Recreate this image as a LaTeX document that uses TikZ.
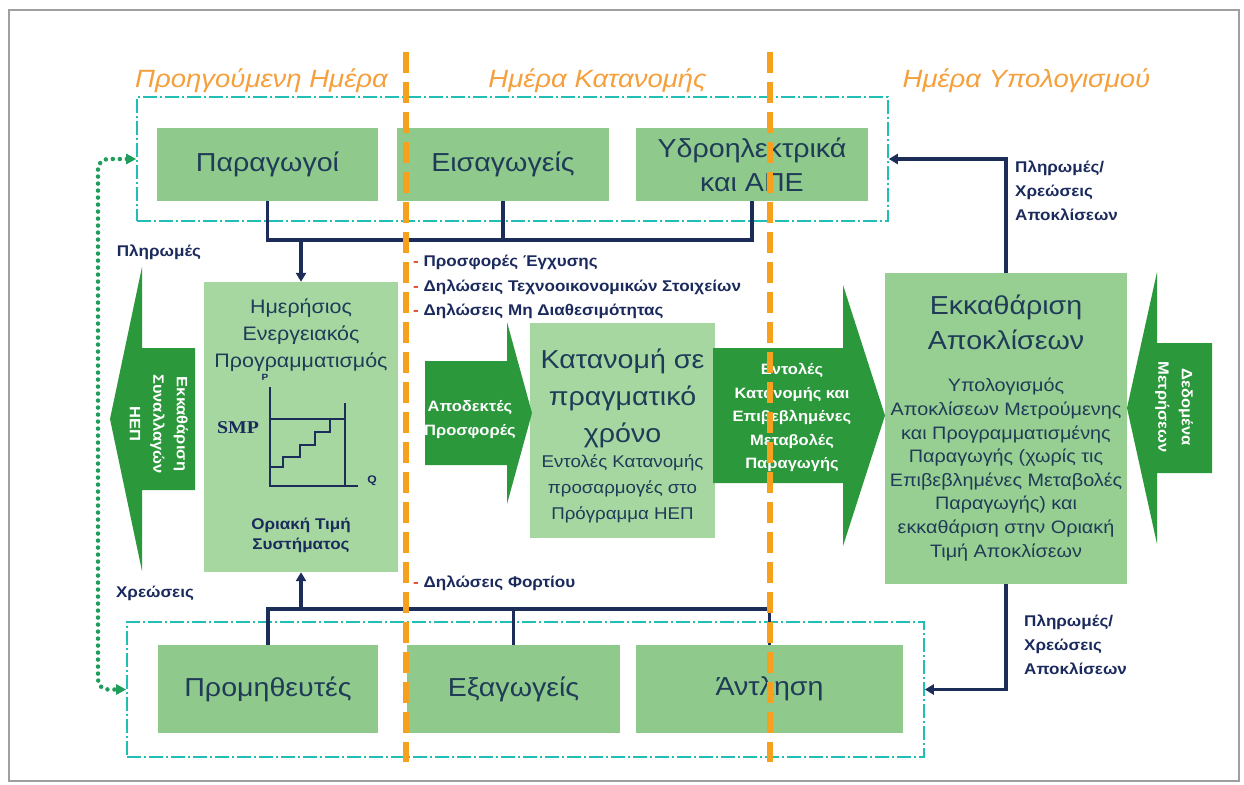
\documentclass[tikz,border=0pt]{standalone}
\usepackage{fontspec}
\setmainfont{Liberation Sans}[FakeStretch=1.1]
\newfontfamily\smpfont{Liberation Serif}[FakeStretch=1.1]
\usetikzlibrary{arrows.meta}
\definecolor{boxA}{RGB}{143,202,140}
\definecolor{boxB}{RGB}{166,215,161}
\definecolor{boxC}{RGB}{151,207,146}
\definecolor{arrg}{RGB}{44,152,60}
\definecolor{txt}{RGB}{31,59,87}
\definecolor{navy}{RGB}{27,42,92}
\definecolor{orng}{RGB}{246,160,30}
\definecolor{hdr}{RGB}{245,160,60}
\definecolor{cyanl}{RGB}{32,190,180}
\definecolor{dotg}{RGB}{30,158,90}
\definecolor{connc}{RGB}{28,45,90}
\definecolor{redm}{RGB}{230,70,40}
\newcommand{\fsz}[2]{\fontsize{#1}{#2}\selectfont}
\begin{document}
\begin{tikzpicture}[x=1pt,y=-1pt,
  groupbox/.style={draw=cyanl, line width=1.6pt, dash pattern=on 14pt off 3pt on 2pt off 3pt, inner sep=0pt},
  rowbox/.style={fill=boxA, text=txt, font=\fsz{26}{34}, align=center, inner sep=0pt, minimum height=73pt},
  bigbox/.style={fill=boxB, inner sep=0pt},
  boxtxt/.style={text=txt, align=center, inner sep=0pt},
  wire/.style={draw=connc, line width=3.1pt},
  wirearrow/.style={wire, -{Triangle[length=9pt,width=10pt]}},
  lbl/.style={text=navy, font=\bfseries\fsz{15.5}{24}, inner sep=0pt, align=left},
  arrowtxt/.style={text=white, font=\bfseries\fsz{15}{23.5}, align=center, inner sep=0pt},
  daydash/.style={draw=orng, line width=6pt, dash pattern=on 21pt off 9pt},
  header/.style={text=hdr, font=\itshape\fsz{25}{30}, inner sep=0pt},
  greendots/.style={draw=dotg, line width=4.5pt, dash pattern=on 0pt off 7pt, line cap=round, rounded corners=10pt},
  chart/.style={draw=connc, line width=1.5pt}
]
\fill[white] (0,0) rectangle (1244,784);
\useasboundingbox (0,0) rectangle (1244,784);
\draw[gray!75, line width=1.8pt] (9,10) rectangle (1239,781);

% headers
\node[header] (h1) at (261.5,81) {Προηγούμενη Ημέρα};
\node[header] (h2) at (597.5,81) {Ημέρα Κατανομής};
\node[header] (h3) at (1026.5,81) {Ημέρα Υπολογισμού};

% group boxes
\node[groupbox, minimum width=751pt, minimum height=124pt] (topgrp) at (512.5,159) {};
\node[groupbox, minimum width=797pt, minimum height=135pt] (botgrp) at (525.5,689.5) {};

% rows
\node[rowbox, minimum width=221pt] (prod) at (267.5,164.5) {Παραγωγοί};
\node[rowbox, minimum width=212pt] (imp) at (503,164.5) {Εισαγωγείς};
\node[rowbox, minimum width=232pt] (hydro) at (752,164.5) {Υδροηλεκτρικά\\και ΑΠΕ};
\node[rowbox, minimum width=220pt, minimum height=88pt] (supp) at (268,689) {Προμηθευτές};
\node[rowbox, minimum width=213pt, minimum height=88pt] (exp) at (513.5,689) {Εξαγωγείς};
\node[rowbox, minimum width=267pt, minimum height=88pt] (pump) at (769.5,689) {Άντληση};

% big boxes
\node[bigbox, minimum width=194pt, minimum height=290pt] (plan) at (301,427) {};
\node[bigbox, minimum width=185pt, minimum height=215pt] (rt) at (622.5,430.5) {};
\node[bigbox, fill=boxC, minimum width=242pt, minimum height=311pt] (settle) at (1006,428.5) {};

% arrows (shapes)
\fill[arrg] (425,361) -- (507,361) -- (507,322) -- (532,413) -- (507,504) -- (507,465) -- (425,465) -- cycle;
\fill[arrg] (713,348) -- (843,348) -- (843,285) -- (885,415.5) -- (843,546) -- (843,483) -- (713,483) -- cycle;
\fill[arrg] (195,348) -- (142,348) -- (142,267) -- (110,419) -- (142,571) -- (142,490) -- (195,490) -- cycle;
\fill[arrg] (1212,343) -- (1157,343) -- (1157,272) -- (1127,408) -- (1157,544) -- (1157,473) -- (1212,473) -- cycle;

% box texts
\node[boxtxt, font=\fsz{19.5}{27}] (planT) at (301,335) {Ημερήσιος\\Ενεργειακός\\Προγραμματισμός};
\node[lbl, align=center, font=\bfseries\fsz{15.5}{20}] (smpT) at (301,535) {Οριακή Τιμή\\Συστήματος};
\node[boxtxt, font=\fsz{26}{37}] (rtT) at (622.5,398) {Κατανομή σε\\πραγματικό\\χρόνο};
\node[boxtxt, font=\fsz{17}{26}] (rtS) at (622.5,489) {Εντολές Κατανομής\\προσαρμογές στο\\Πρόγραμμα ΗΕΠ};
\node[boxtxt, font=\fsz{26}{35}] (stT) at (1006,322.5) {Εκκαθάριση\\Αποκλίσεων};
\node[boxtxt, font=\fsz{18}{23.6}] (stS) at (1006,469.5) {Υπολογισμός\\Αποκλίσεων Μετρούμενης\\και Προγραμματισμένης\\Παραγωγής (χωρίς τις\\Επιβεβλημένες Μεταβολές\\Παραγωγής) και\\εκκαθάριση στην Οριακή\\Τιμή Αποκλίσεων};

% chart
\draw[chart] (270,387) -- (270,486) -- (358,486);
\draw[chart] (345,403) -- (345,486);
\draw[chart] (270,419) -- (345,419);
\draw[chart] (270,467) -- (283,467) -- (283,457) -- (300,457) -- (300,445) -- (315,445) -- (315,432) -- (330,432) -- (330,420);
\node[text=navy, font=\smpfont\bfseries\fsz{18}{20}, inner sep=0pt] (smp) at (238,428) {SMP};
\node[text=navy, font=\bfseries\fsz{9}{10}, inner sep=0pt] (pl) at (265,377) {P};
\node[text=navy, font=\bfseries\fsz{11}{12}, inner sep=0pt] (ql) at (372,481) {Q};

% arrow texts
\node[arrowtxt] (accT) at (470,419.5) {Αποδεκτές\\Προσφορές};
\node[arrowtxt] (ordT) at (792,417.5) {Εντολές\\Κατανομής και\\Επιβεβλημένες\\Μεταβολές\\Παραγωγής};
\node[arrowtxt, rotate=-90] (clrT) at (159,424) {Εκκαθάριση\\Συναλλαγών\\ΗΕΠ};
\node[arrowtxt, rotate=-90] (metT) at (1174,407) {Δεδομένα\\Μετρήσεων};

% connectors
\coordinate (busT) at (0,240);
\coordinate (busB) at (0,609);
\draw[wire] (prod.south) -- (prod.south |- busT) -- (hydro.south |- busT) -- (hydro.south);
\draw[wire] (imp.south) -- (imp.south |- busT);
\draw[wirearrow] (plan.north |- busT) -- (plan.north);
\draw[wire] (supp.north) -- (supp.north |- busB) -- (pump.north |- busB) -- (pump.north);
\draw[wire] (exp.north) -- (exp.north |- busB);
\draw[wirearrow] (plan.south |- busB) -- (plan.south);
\draw[wirearrow] (settle.north) |- (topgrp.east);
\draw[wirearrow] (settle.south) |- (botgrp.east);

% labels
\node[lbl, anchor=west] (l1) at (413,262) {\textcolor{redm}{-} Προσφορές Έγχυσης};
\node[lbl, anchor=west] (l2) at (413,287) {\textcolor{redm}{-} Δηλώσεις Τεχνοοικονομικών Στοιχείων};
\node[lbl, anchor=west] (l3) at (413,311) {\textcolor{redm}{-} Δηλώσεις Μη Διαθεσιμότητας};
\node[lbl, anchor=west] (l4) at (413,583) {\textcolor{redm}{-} Δηλώσεις Φορτίου};
\node[lbl] (payL) at (159,252) {Πληρωμές};
\node[lbl] (chgL) at (155,593) {Χρεώσεις};
\node[lbl, anchor=west] (payTR) at (1015,191) {Πληρωμές/\\Χρεώσεις\\Αποκλίσεων};
\node[lbl, anchor=west] (payBR) at (1024,645) {Πληρωμές/\\Χρεώσεις\\Αποκλίσεων};

% green dotted link
\coordinate (dotx) at (98,420);
\draw[greendots, {Triangle[length=10pt,width=10pt]}-{Triangle[length=10pt,width=10pt]}] (topgrp.west) -| (dotx) |- (botgrp.west);

% day separators
\coordinate (o1t) at (406,52);
\coordinate (o1b) at (406,762);
\coordinate (o2t) at (770,52);
\coordinate (o2b) at (770,762);
\draw[daydash] (o1t) -- (o1b);
\draw[daydash] (o2t) -- (o2b);
\end{tikzpicture}
\end{document}
